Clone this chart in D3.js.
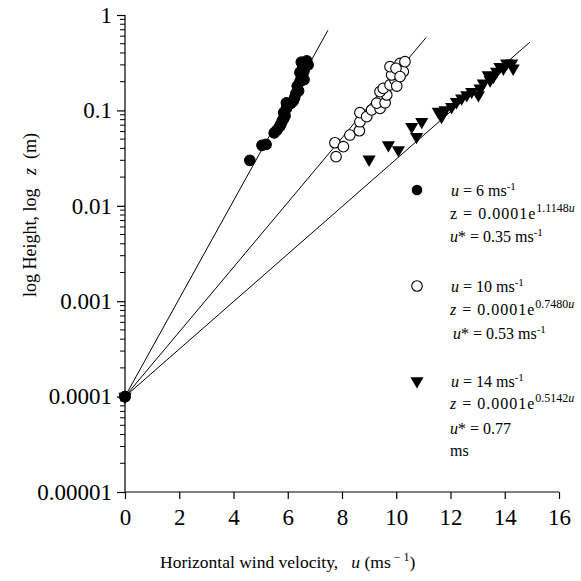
<!DOCTYPE html>
<html>
<head>
<meta charset="utf-8">
<script src="https://cdn.jsdelivr.net/npm/d3@7/dist/d3.min.js"></script>
<style>
  html, body { margin: 0; padding: 0; background: #fff; }
  svg { display: block; }
  text { font-family: "Liberation Serif", "Times New Roman", serif; fill: #000; }
</style>
</head>
<body>
<div id="chart"></div>
<script>
// Wind profiles: height (log) against horizontal wind velocity for three runs.
const xTicks = [0, 2, 4, 6, 8, 10, 12, 14, 16];
const yTicks = [1, 0.1, 0.01, 0.001, 0.0001, 0.00001];
const yTickLabels = ["1", "0.1", "0.01", "0.001", "0.0001", "0.00001"];

// Run u = 6 m/s (filled circles)
const u6 = [0, 4.60, 5.05, 5.20, 5.50, 5.60, 5.70, 5.75, 5.80, 5.85, 5.90, 5.85, 5.95, 6.00, 5.95, 6.10, 6.20, 6.25, 6.30, 6.40, 6.35, 6.45, 6.50, 6.55, 6.60, 6.45, 6.55, 6.65, 6.50, 6.70, 6.75, 6.60];
const z6 = [0.0001, 0.030, 0.043, 0.044, 0.058, 0.062, 0.068, 0.072, 0.078, 0.082, 0.088, 0.095, 0.105, 0.115, 0.120, 0.118, 0.125, 0.135, 0.150, 0.160, 0.180, 0.200, 0.220, 0.240, 0.260, 0.250, 0.280, 0.300, 0.320, 0.330, 0.300, 0.210];

// Run u = 10 m/s (open circles)
const u10 = [0, 7.78, 7.74, 8.05, 8.29, 8.64, 8.66, 8.66, 8.91, 9.09, 9.40, 9.28, 9.59, 9.65, 9.40, 9.52, 9.77, 9.95, 10.02, 9.83, 9.77, 10.14, 10.26, 9.99, 10.14, 10.32];
const z10 = [0.0001, 0.0327, 0.0458, 0.0417, 0.0552, 0.0612, 0.076, 0.0946, 0.086, 0.101, 0.105, 0.119, 0.120, 0.145, 0.157, 0.170, 0.185, 0.208, 0.180, 0.235, 0.287, 0.311, 0.255, 0.276, 0.226, 0.324];

// Run u = 14 m/s (filled triangles)
const u14 = [0, 9.00, 9.71, 10.08, 10.57, 10.75, 10.94, 11.55, 11.67, 11.80, 12.04, 12.22, 12.41, 12.60, 12.78, 13.03, 13.09, 13.21, 13.46, 13.39, 13.58, 13.70, 13.82, 13.95, 14.07, 14.25, 14.31];
const z14 = [0.0001, 0.0307, 0.0434, 0.0385, 0.0675, 0.053, 0.076, 0.097, 0.086, 0.101, 0.109, 0.123, 0.134, 0.145, 0.157, 0.145, 0.170, 0.192, 0.208, 0.235, 0.226, 0.255, 0.287, 0.276, 0.311, 0.311, 0.276];

// Fitted profile lines: each runs from (0, 0.0001) to its end point
const fitUEnd = [7.48, 11.10, 14.93];
const fitZEnd = [0.69, 0.58, 0.52];

const W = 581, H = 581;
const m = { left: 125, right: 22, top: 15, bottom: 89 };

const svg = d3.select("#chart").append("svg")
  .attr("width", W).attr("height", H);

const x = d3.scaleLinear().domain([0, 16]).range([m.left, W - m.right]);
const y = d3.scaleLog().domain([0.00001, 1]).range([H - m.bottom, m.top]);

// Axes
const xAxis = d3.axisBottom(x).tickValues(xTicks).tickSize(7).tickFormat(d3.format("d"));
const gx = svg.append("g").attr("transform", `translate(0,${H - m.bottom})`).call(xAxis);
gx.select(".domain").attr("d", `M${x(0)},0H${x(16)}`);
gx.selectAll("text").attr("y", 13).attr("dy", "0.85em").style("font-size", "23px").style("font-family", "Liberation Serif");

const minorY = [];
for (let e = -5; e < 0; e++) for (let k = 2; k <= 9; k++) minorY.push(k * Math.pow(10, e));

const gy = svg.append("g").attr("transform", `translate(${m.left},0)`);
gy.call(d3.axisLeft(y).tickValues(yTicks).tickSize(8).tickFormat((d, i) => yTickLabels[i]));
gy.select(".domain").attr("d", `M0,${y(1)}V${y(0.00001)}`);
gy.selectAll("text").attr("x", -13).style("font-size", "23px").style("font-family", "Liberation Serif");
gy.selectAll(".minor").data(minorY).enter().append("line")
  .attr("class", "minor")
  .attr("x1", -5).attr("x2", 0)
  .attr("y1", d => y(d)).attr("y2", d => y(d))
  .attr("stroke", "#000");
svg.selectAll(".domain, .tick line").attr("stroke", "#000").attr("stroke-width", 1.2);

// Fit lines
fitUEnd.forEach((ue, i) => {
  svg.append("line")
    .attr("x1", x(0)).attr("y1", y(0.0001))
    .attr("x2", x(ue)).attr("y2", y(fitZEnd[i]))
    .attr("stroke", "#000").attr("stroke-width", 1);
});

// Markers
const triPath = d3.symbol().type(d3.symbolTriangle).size(75)();
function drawCircles(us, zs, filled) {
  svg.append("g").selectAll("circle").data(us).enter().append("circle")
    .attr("cx", d => x(d)).attr("cy", (d, i) => y(zs[i])).attr("r", 5.3)
    .attr("fill", filled ? "#000" : "#fff")
    .attr("stroke", "#000").attr("stroke-width", 1.1);
}
drawCircles(u10, z10, false);
drawCircles(u6, z6, true);
svg.append("g").selectAll("path").data(u14).enter().append("path")
  .attr("d", triPath)
  .attr("transform", (d, i) => `translate(${x(d)},${y(z14[i])}) rotate(180)`)
  .attr("fill", "#000");

// Legend
const leg = svg.append("g").style("font-size", "16px");
leg.append("circle").attr("cx", 417).attr("cy", 190).attr("r", 5.3).attr("fill", "#000");
leg.append("circle").attr("cx", 417).attr("cy", 286).attr("r", 5.3).attr("fill", "#fff").attr("stroke", "#000").attr("stroke-width", 1.1);
leg.append("path").attr("d", triPath).attr("transform", "translate(417,381) rotate(180)").attr("fill", "#000");

function line(xp, yp, parts, spacing) {
  const t = leg.append("text").attr("x", xp).attr("y", yp);
  parts.forEach(p => {
    const s = t.append("tspan").text(p.t);
    if (p.i) s.style("font-style", "italic");
    if (p.sup) s.attr("baseline-shift", "super").style("font-size", p.big ? "12px" : "11px");
    else if (spacing) s.style("letter-spacing", spacing);
  });
  return t;
}
line(451, 196, [{ t: "u", i: 1 }, { t: " = 6 ms" }, { t: "-1", sup: 1 }]);
line(450, 219, [{ t: "z = 0.0001e" }, { t: "1.1148", sup: 1, big: 1 }, { t: "u", sup: 1, big: 1, i: 1 }], "1px");
line(450, 242, [{ t: "u", i: 1 }, { t: "* = 0.35 ms" }, { t: "-1", sup: 1 }]);
line(451, 292, [{ t: "u", i: 1 }, { t: " = 10 ms" }, { t: "-1", sup: 1 }]);
line(450, 315, [{ t: "z", i: 1 }, { t: " = 0.0001e" }, { t: "0.7480", sup: 1, big: 1 }, { t: "u", sup: 1, big: 1, i: 1 }], "1px");
line(453, 339, [{ t: "u", i: 1 }, { t: "* = 0.53 ms" }, { t: "-1", sup: 1 }]);
line(451, 387, [{ t: "u", i: 1 }, { t: " = 14 ms" }, { t: "-1", sup: 1 }]);
line(450, 409, [{ t: "z", i: 1 }, { t: " = 0.0001e" }, { t: "0.5142", sup: 1, big: 1 }, { t: "u", sup: 1, big: 1, i: 1 }], "1px");
line(450, 434, [{ t: "u", i: 1 }, { t: "* = 0.77" }]);
line(450, 456, [{ t: "ms" }]);

// Axis titles
const xt = svg.append("text").attr("x", 160).attr("y", 568).style("font-size", "17.5px");
xt.append("tspan").text("Horizontal wind velocity,\u00a0\u00a0\u00a0");
xt.append("tspan").text("u").style("font-style", "italic");
xt.append("tspan").text("\u00a0(ms");
xt.append("tspan").text("\u00a0\u2212\u00a01").attr("baseline-shift", "super").style("font-size", "12px");
xt.append("tspan").text(")");

const yt = svg.append("text")
  .attr("transform", `translate(36,${215}) rotate(-90)`)
  .attr("text-anchor", "middle").style("font-size", "18px");
yt.append("tspan").text("log Height, log\u00a0\u00a0\u00a0");
yt.append("tspan").text("z").style("font-style", "italic");
yt.append("tspan").text("\u00a0\u00a0(m)");
</script>
</body>
</html>
